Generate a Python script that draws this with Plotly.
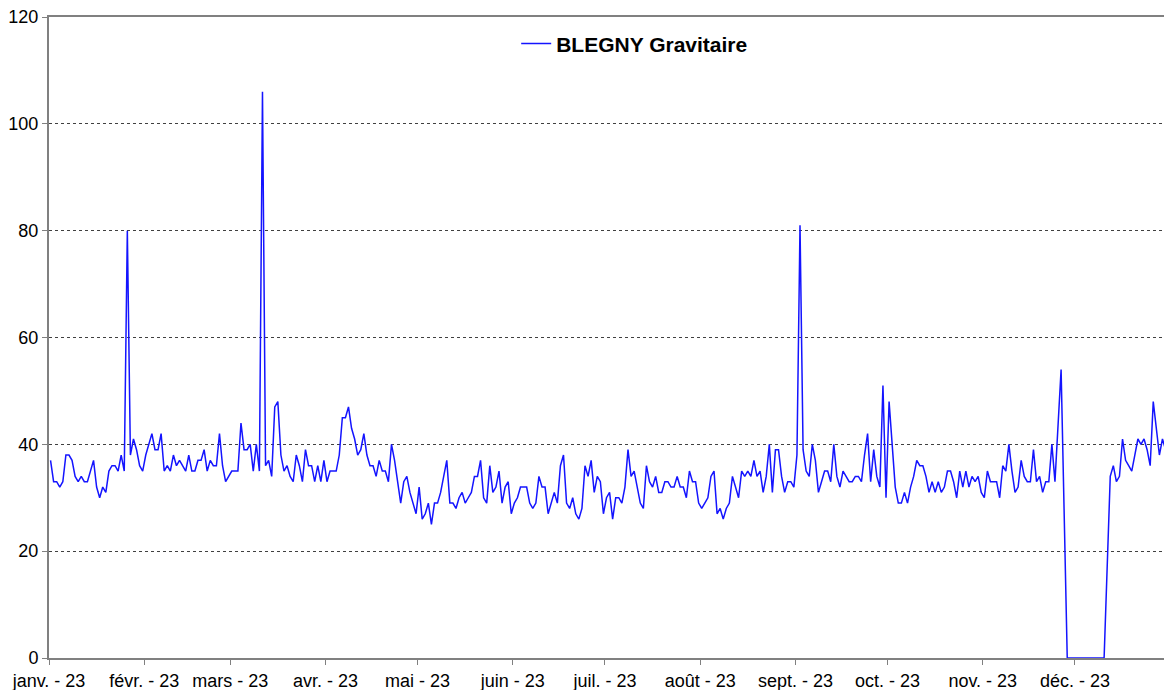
import pandas as pd
import plotly.graph_objects as go

# daily values for 2023, one list per month (None = no reading, line is bridged)
jan = [37, 33, 33, 32, 33, 38, 38, 37, 34, 33, 34, 33, 33, 35, 37, 32, 30, 32, 31, 35,
       36, 36, 35, 38, 35, 80, 38, 41, 39, 36, 35]
feb = [38, 40, 42, 39, 39, 42, 35, 36, 35, 38, 36, 37, 36, 35, 38, 35, 35, 37, 37, 39,
       35, 37, 36, 36, 42, 36, 33, 34]
mar = [35, 35, 35, 44, 39, 39, 40, 35, 40, 35, 106, 36, 37, 34, 47, 48, 38, 35, 36, 34,
       33, 38, 36, 33, 39, 36, 36, 33, 36, 33, 37]
apr = [33, 35, 35, 35, 38, 45, 45, 47, 43, 41, 38, 39, 42, 38, 36, 36, 34, 37, 35, 35,
       33, 40, 37, 33, 29, 33, 34, 31, 29, 27]
may = [32, 26, 27, 29, 25, 29, 29, 31, 34, 37, 29, 29, 28, 30, 31, 29, 30, 31, 34, 34,
       37, 30, 29, 36, 31, 32, 35, 29, 32, 33, 27]
jun = [29, 30, 32, 32, 32, 29, 28, 29, 34, 32, 32, 27, 29, 31, 29, 36, 38, 29, 28, 30,
       27, 26, 28, 36, 34, 37, 31, 34, 33, 27]
jul = [30, 31, 26, 30, 30, 29, 32, 39, 34, 35, 32, 29, 28, 36, 33, 32, 34, 31, 31, 33,
       33, 32, 32, 34, 32, 32, 30, 35, 33, 33, 29]
aug = [28, 29, 30, 34, 35, 27, 28, 26, 28, 29, 34, 32, 30, 35, 34, 35, 34, 37, 34, 35,
       31, 34, 40, 31, 39, 39, 34, 31, 33, 33, 32]
sep = [38, 81, 39, 35, 34, 40, 37, 31, 33, 35, 35, 33, 40, 34, 32, 35, 34, 33, 33, 34,
       34, 33, 38, 42, 33, 39, 34, 32, 51, 30]
oct_ = [48, 39, 32, 29, 29, 31, 29, 32, 34, 37, 36, 36, 34, 31, 33, 31, 33, 31, 32, 35,
        35, 33, 30, 35, 32, 35, 32, 34, 33, 34, 31]
nov = [30, 35, 33, 33, 33, 30, 36, 35, 40, 35, 31, 32, 37, 34, 33, 33, 39, 33, 34, 31,
       33, 33, 40, 33, 44, 54, None, 0, 0, 0]
dec = [0, 0, 0, 0, 0, 0, 0, 0, 0, 0, None, 34, 36, 33, 34, 41, 37, 36, 35, 38,
       41, 40, 41, 39, 36, 48, 43, 38, 41, 39, 40]

values = jan + feb + mar + apr + may + jun + jul + aug + sep + oct_ + nov + dec
days = pd.date_range("2023-01-01 12:00", periods=len(values), freq="D")

month_starts = pd.date_range("2023-01-01", periods=12, freq="MS")
month_labels = ["janv. - 23", "févr. - 23", "mars - 23", "avr. - 23", "mai - 23",
                "juin - 23", "juil. - 23", "août - 23", "sept. - 23", "oct. - 23",
                "nov. - 23", "déc. - 23"]
series_name = "BLEGNY Gravitaire"

font_family = "Arial, Liberation Sans, sans-serif"

fig = go.Figure(go.Scatter(
    x=days,
    y=values,
    mode="lines",
    name=series_name,
    line=dict(color="#1414ff", width=1.5),
    connectgaps=True,
))

fig.update_layout(
    width=1164,
    height=690,
    margin=dict(l=49, r=0, t=17, b=32),
    paper_bgcolor="white",
    plot_bgcolor="white",
    font=dict(family=font_family, size=18, color="black"),
    showlegend=True,
    legend=dict(
        x=0.419, xanchor="left",
        y=0.958, yanchor="middle",
        bgcolor="rgba(0,0,0,0)",
        font=dict(family=font_family, size=21, color="black", weight="bold"),
    ),
)

fig.update_xaxes(
    range=["2023-01-01", "2023-12-30"],
    tickmode="array",
    tickvals=month_starts,
    ticktext=month_labels,
    ticks="outside",
    ticklen=5,
    tickcolor="#808080",
    showline=True,
    linecolor="#808080",
    linewidth=2,
    mirror=True,
    showgrid=False,
    layer="below traces",
)

fig.update_yaxes(
    range=[0, 120],
    dtick=20,
    ticks="outside",
    ticklen=5,
    tickcolor="#808080",
    showline=True,
    linecolor="#808080",
    linewidth=2,
    showgrid=True,
    gridcolor="#404040",
    gridwidth=1,
    griddash="dot",
    zeroline=False,
    layer="below traces",
)

fig.write_html("out.html", config={"displayModeBar": False},
               post_script="document.body.style.margin='0';")
